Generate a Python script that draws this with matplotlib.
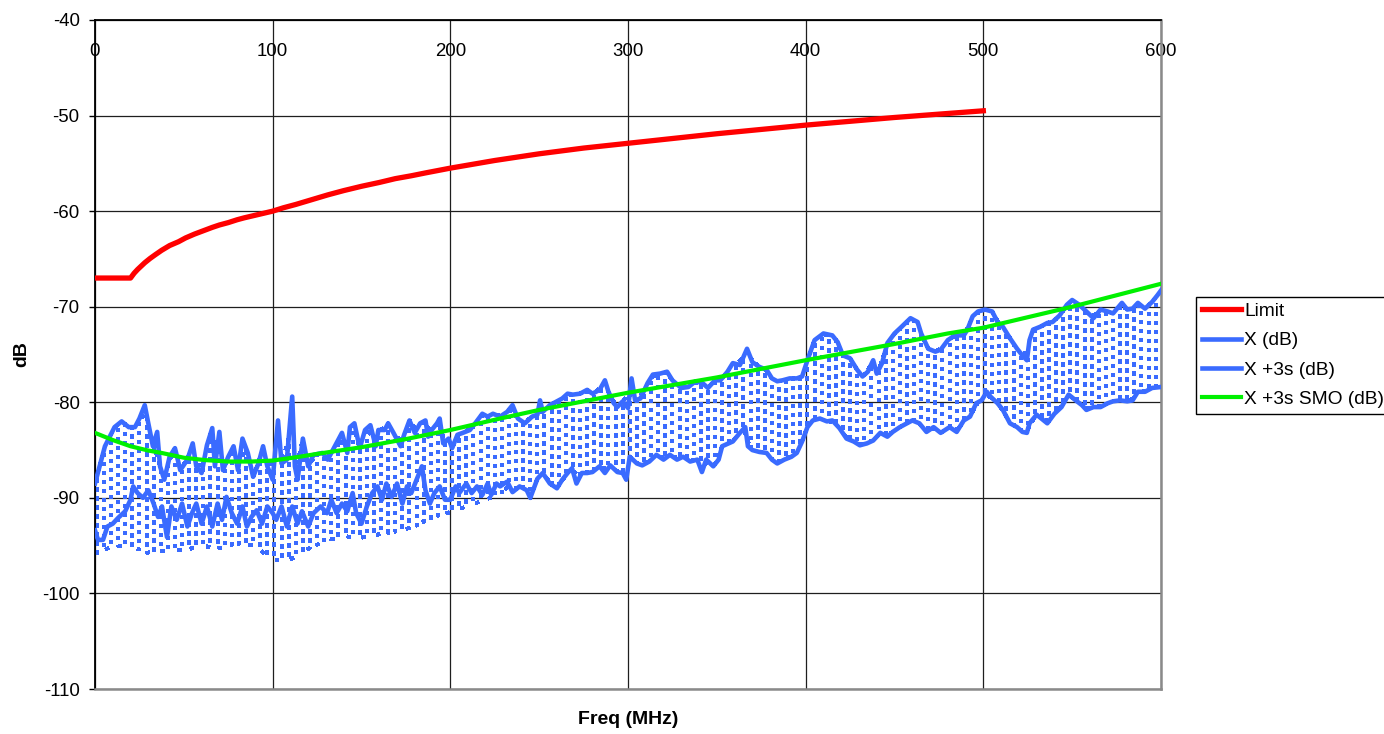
import numpy as np
import matplotlib
matplotlib.use("Agg")
import matplotlib.pyplot as plt

plt.rcParams['font.family'] = ['Liberation Sans', 'DejaVu Sans']
plt.rcParams['axes.unicode_minus'] = False

# ---------------- data ----------------
limit_f = [0, 20, 22, 24, 26, 28, 31, 34, 37.5, 42, 47, 51, 56, 61, 66, 70, 75,
           80, 84, 92, 100, 106, 113, 122, 131, 140, 150, 160, 169, 178, 186,
           200, 225, 250, 275, 300, 325, 350, 375, 400, 425, 450, 475, 500]
limit_db = [-67, -67, -66.5, -66.1, -65.75, -65.4, -64.95, -64.55, -64.1, -63.6,
            -63.2, -62.8, -62.4, -62.05, -61.7, -61.45, -61.2, -60.9, -60.7,
            -60.35, -60.0, -59.65, -59.3, -58.8, -58.3, -57.85, -57.4, -57.0,
            -56.6, -56.3, -56.0, -55.5, -54.7, -54.0, -53.4, -52.9, -52.4,
            -51.9, -51.45, -51.0, -50.6, -50.2, -49.85, -49.5]

smo_f = [0, 10, 20, 30, 37.5, 50, 62, 75, 88, 100, 115, 125, 150, 175, 200, 228,
         250, 275, 300, 325, 350, 375, 400, 425, 450, 480, 500, 525, 550, 575, 600]
smo_db = [-83.2, -83.95, -84.6, -85.05, -85.3, -85.8, -86.05, -86.2, -86.2,
          -86.1, -85.7, -85.4, -84.7, -83.85, -82.9, -81.7, -80.8, -79.9, -79.0,
          -78.2, -77.4, -76.5, -75.6, -74.75, -73.9, -72.8, -72.2, -71.1, -70.0,
          -68.8, -67.6]

# X +3s (dB) -- upper solid trace
up_f = [0, 5.6, 11, 15, 19, 22.5, 25, 28, 30, 32.6, 35, 36.6, 39, 42, 45, 48,
        52, 55, 57, 60, 63, 66, 67.5, 70, 72, 75, 78, 80.5, 83, 86, 89, 92,
        94.6, 97, 100, 103, 105, 108, 111, 112.5, 114, 117, 120, 123, 128, 131,
        135, 139, 142, 143.5, 146, 149, 152, 155, 158, 159.5, 163, 165, 168,
        172, 174, 177, 180, 183, 186, 187.5, 189.5, 192.5, 194, 196, 199, 201,
        204, 207, 211, 214, 218, 221, 224, 228, 232, 235, 238, 242, 246, 249,
        250.5, 252, 256, 260, 263, 266, 269, 273, 277, 280, 284, 287, 289, 292,
        294, 297, 300, 302, 304, 307, 311, 314, 318, 322, 325, 330, 334, 338,
        342, 345, 349, 352, 356, 359, 363, 367, 370, 374, 378, 381, 384, 387,
        391, 395, 398, 401, 405, 410, 415, 418, 421, 425, 429, 432, 435, 438,
        440, 443, 446, 450, 454, 459, 463, 465, 469, 473, 476, 480, 484, 489,
        491, 494, 497, 501, 505, 508, 511, 515, 519, 522, 524.5, 526, 528, 532,
        536, 539, 543, 547, 550, 554, 558, 562, 566, 570, 573, 578, 581, 584,
        587, 591, 595, 598, 600]
up_db = [-88.5, -84.6, -82.6, -82.0, -82.6, -82.6, -81.7, -80.3, -82.2, -84.6,
         -83.1, -86.7, -88.1, -85.7, -84.8, -87.1, -86.0, -84.3, -86.7, -87.4,
         -84.5, -82.7, -86.7, -83.1, -87.1, -85.7, -84.6, -87.1, -83.8, -85.3,
         -87.8, -86.4, -84.6, -86.7, -88.1, -81.9, -86.4, -86.0, -79.4, -86.7,
         -88.1, -83.8, -86.7, -85.5, -85.3, -86.0, -84.6, -83.2, -85.3, -82.6,
         -82.2, -84.8, -82.9, -82.4, -84.6, -82.9, -82.9, -82.2, -83.2, -84.6,
         -83.4, -81.9, -83.2, -82.2, -81.9, -83.6, -82.9, -82.2, -81.7, -84.3,
         -83.8, -84.8, -83.4, -83.2, -82.9, -82.2, -81.2, -81.5, -81.2, -81.5,
         -81.0, -80.3, -81.7, -82.2, -81.5, -81.3, -79.8, -81.0, -80.3, -79.9,
         -79.6, -79.1, -79.2, -79.1, -78.7, -79.1, -78.7, -77.7, -78.9, -80.1,
         -80.5, -79.9, -80.6, -77.5, -79.8, -79.6, -78.0, -77.1, -77.0, -76.8,
         -77.7, -78.5, -78.4, -77.8, -78.0, -78.5, -77.7, -77.7, -76.8, -75.9,
         -76.1, -74.4, -75.8, -76.3, -76.6, -77.5, -77.8, -77.7, -77.5, -77.5,
         -77.3, -75.6, -73.5, -72.8, -73.0, -73.7, -75.1, -75.4, -76.6, -77.3,
         -76.8, -75.6, -77.0, -75.9, -73.8, -72.8, -72.1, -71.2, -71.6, -72.8,
         -74.4, -74.7, -74.5, -73.5, -73.0, -73.0, -72.4, -71.0, -70.5, -70.3,
         -70.5, -71.6, -72.1, -73.3, -74.4, -75.1, -75.6, -73.5, -72.4, -72.1,
         -71.7, -71.6, -70.9, -69.8, -69.3, -69.8, -70.5, -71.2, -70.3, -70.5,
         -70.7, -69.6, -70.3, -70.2, -69.6, -70.2, -69.5, -68.8, -68.3]

# X (dB) -- lower solid trace
lo_f = [0, 1.7, 4.5, 7, 10, 13, 17, 20, 21.5, 24, 27, 30, 33, 35.5, 37.7, 40.5,
        43, 46, 49, 52, 54.6, 57, 60, 63, 66, 69, 71.5, 74, 77, 80, 83, 85.5,
        88, 91, 94, 97, 100, 102, 105, 108, 111, 114, 116.5, 120, 123, 127,
        130.6, 133, 136, 139, 142, 145, 147, 150, 153, 156, 159, 161.5, 164,
        167, 170, 173, 175.6, 178, 181, 184, 186, 188.5, 191, 194, 197, 200,
        203, 205, 209, 212, 215, 218, 221, 223, 226, 228, 232, 235, 239, 243,
        245, 249, 252, 256, 260, 263, 266, 268.5, 271, 274, 277, 280, 284, 287,
        290, 294, 297, 299, 301, 305, 308, 312, 316, 320, 323.6, 327.6, 331,
        335, 339, 341.6, 344, 348, 351, 353, 359, 363, 366, 367.5, 370, 374,
        378, 381, 384, 388, 392, 395, 398, 401, 404, 408, 412, 415, 419, 423,
        427, 430.5, 434.5, 438, 442, 446, 449, 453, 457, 460, 464, 468, 472,
        476, 481, 485, 489, 492.5, 496, 499, 502, 504, 508, 511, 515, 519, 522,
        524.5, 526, 530, 534, 536, 540, 544, 548, 552, 555.5, 558, 562, 566,
        570, 573, 577, 581, 584, 587, 591, 595, 600]
lo_db = [-93.4, -94.4, -94.4, -93.0, -92.7, -92.1, -91.4, -90.2, -88.8, -89.5,
         -90.0, -89.2, -90.6, -92.0, -90.9, -94.1, -90.9, -92.3, -90.6, -93.0,
         -91.6, -90.6, -92.7, -90.9, -93.0, -90.6, -92.3, -89.9, -91.6, -92.7,
         -90.9, -93.0, -92.0, -91.3, -92.7, -90.9, -91.6, -92.3, -90.9, -93.0,
         -90.9, -92.7, -91.4, -93.0, -91.6, -90.9, -91.6, -90.2, -91.6, -90.6,
         -91.4, -89.5, -91.6, -92.7, -90.9, -89.5, -88.8, -90.2, -88.5, -89.9,
         -88.5, -90.6, -88.8, -89.5, -88.1, -86.7, -89.2, -90.6, -89.5, -88.8,
         -90.2, -90.2, -88.8, -89.5, -88.5, -89.5, -88.8, -89.7, -88.5, -89.7,
         -88.5, -88.8, -88.3, -89.4, -88.8, -89.2, -90.0, -88.0, -87.4, -88.5,
         -89.0, -88.1, -87.4, -86.9, -88.5, -87.4, -87.4, -87.3, -86.7, -87.4,
         -86.6, -87.3, -87.4, -88.1, -85.7, -86.4, -86.6, -86.2, -85.5, -86.0,
         -85.5, -86.0, -85.7, -86.2, -86.0, -87.3, -86.0, -86.7, -86.0, -84.6,
         -84.1, -83.2, -82.6, -84.6, -85.0, -85.2, -85.3, -86.0, -86.4, -86.0,
         -85.7, -85.3, -84.1, -82.6, -81.9, -81.7, -82.0, -81.9, -82.7, -83.8,
         -84.1, -84.5, -84.3, -84.0, -83.2, -83.6, -83.1, -82.6, -82.2, -81.9,
         -82.2, -83.1, -82.6, -83.2, -82.6, -83.1, -81.9, -81.5, -80.1, -79.8,
         -78.9, -79.4, -80.1, -80.8, -82.2, -82.6, -83.1, -83.2, -82.2, -81.3,
         -81.9, -82.2, -81.2, -80.5, -79.2, -79.8, -80.3, -80.8, -80.5, -80.5,
         -80.1, -79.9, -79.8, -79.9, -79.8, -78.9, -78.9, -78.5, -78.4]

# lower reach of the dotted band at low frequencies
floor_f = [0, 10, 20, 30, 40, 50, 60, 70, 80, 90, 100, 110, 120, 130, 140,
           150, 160, 170, 180, 190, 200, 215, 230]
floor_db = [-96.0, -95.0, -95.0, -95.8, -95.5, -95.5, -95.0, -95.3, -94.8,
            -95.0, -96.5, -96.5, -95.3, -94.5, -94.0, -94.2, -93.8, -93.5,
            -93.0, -92.0, -91.5, -90.5, -89.5]

x_ticks = [0, 100, 200, 300, 400, 500, 600]
y_ticks = [-110, -100, -90, -80, -70, -60, -50, -40]
labels = ['Limit', 'X (dB)', 'X +3s (dB)', 'X +3s SMO (dB)']

# ---------------- styling ----------------
RED = '#FF0000'
BLUE = '#3A6BFF'
GREEN = '#00F000'
FS = 13.4

fig = plt.figure(figsize=(13.84, 7.34), dpi=100)
ax = fig.add_axes([95 / 1384, 1 - 689 / 734, (1161 - 95) / 1384, (689 - 20) / 734])

# dotted band between lower and upper traces (vertical dotted strokes)
hatch_x = np.arange(1.0, 600, 4.0)
hi = np.interp(hatch_x, up_f, up_db)
lo = np.interp(hatch_x, lo_f, lo_db)
fl = np.interp(hatch_x, floor_f, floor_db)
lo = np.where(hatch_x <= floor_f[-1], np.minimum(lo, fl), lo)
zx, zy = [], []
for i, (xv, a, b) in enumerate(zip(hatch_x, lo, hi)):
    zx += [xv, xv]
    zy += [a, b] if i % 2 == 0 else [b, a]
ax.plot(zx, zy, color=BLUE, lw=2.1, linestyle=(0, (1.1, 1.8)),
        dash_capstyle='butt', antialiased=False, zorder=2)

l_lo, = ax.plot(lo_f, lo_db, color=BLUE, lw=3.3, zorder=3, solid_joinstyle='round')
l_up, = ax.plot(up_f, up_db, color=BLUE, lw=3.3, zorder=3, solid_joinstyle='round')
l_smo, = ax.plot(smo_f, smo_db, color=GREEN, lw=3.0, zorder=4)
l_lim, = ax.plot(limit_f, limit_db, color=RED, lw=3.8, zorder=5)

ax.set_xlim(0, 600)
ax.set_ylim(-110, -40)
ax.set_xticks(x_ticks)
ax.set_yticks(y_ticks)
ax.set_xticklabels([str(v) for v in x_ticks])
ax.set_yticklabels([str(v) for v in y_ticks])
ax.grid(True, color='#1e1e1e', lw=0.9)
ax.set_axisbelow(True)

ax.tick_params(axis='x', bottom=False, labelbottom=False, top=True, labeltop=True,
               direction='in', length=0, pad=-29, labelsize=FS, colors='black')
ax.tick_params(axis='y', direction='out', length=4, width=1, pad=7,
               labelsize=FS, colors='black')

for s in ['left', 'top']:
    ax.spines[s].set_color('black')
    ax.spines[s].set_linewidth(1.3)
for s in ['right', 'bottom']:
    ax.spines[s].set_color('#8a8a8a')
    ax.spines[s].set_linewidth(1.8)

ax.set_xlabel('Freq (MHz)', fontsize=14, fontweight='bold', labelpad=16)
ax.set_ylabel('dB', fontsize=14, fontweight='bold')
ax.yaxis.set_label_coords(-0.061, 0.5)

leg = fig.legend([l_lim, l_lo, l_up, l_smo], labels, loc='upper left',
                 bbox_to_anchor=(1196 / 1384, 1 - 297 / 734),
                 bbox_transform=fig.transFigure, borderaxespad=0,
                 fontsize=13.8, frameon=True, fancybox=False, shadow=False,
                 edgecolor='black', framealpha=1, handlelength=2.05,
                 handletextpad=0.15, labelspacing=0.62, borderpad=0.3)
leg.get_frame().set_linewidth(1.0)

fig.savefig('out.png', dpi=100)
